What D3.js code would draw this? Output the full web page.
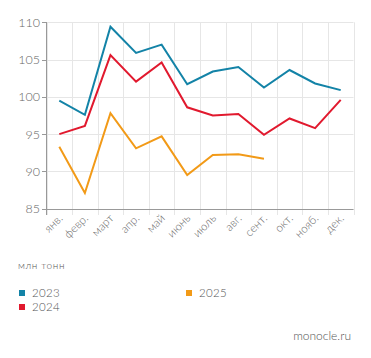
<!DOCTYPE html>
<html><head><meta charset="utf-8">
<script src="https://cdn.jsdelivr.net/npm/d3@7"></script>
<style>body{margin:0;background:#fff;} svg{display:block;font-family:Lato, "Open Sans", sans-serif;font-weight:300;}</style>
</head><body>
<svg id="c" width="371" height="358"></svg>
<script>
const months = ["янв.","февр.","март","апр.","май","июнь","июль","авг.","сент.","окт.","нояб.","дек."];
const s2023 = [99.5,97.6,109.4,105.9,107.0,101.7,103.4,104.0,101.25,103.6,101.8,100.9];
const s2024 = [95.0,96.1,105.6,102.05,104.6,98.6,97.5,97.7,94.9,97.1,95.8,99.6];
const s2025 = [93.3,87.1,97.8,93.1,94.7,89.5,92.2,92.3,91.7];
const yTicks = [85,90,95,100,105,110];
const seriesNames = ["2023","2024","2025"];
const colors = ["#1383a7","#e1192e","#f29a17"];

const svg = d3.select("#c");
const x = d3.scaleBand().domain(months).range([46.5,353.5]);
const y = d3.scaleLinear().domain([85,110]).range([208.7,22.3]);

// grid
const g = svg.append("g");
g.selectAll("line.h").data(yTicks).join("line")
  .attr("x1",46.5).attr("x2",353.5).attr("y1",d=>Math.round(y(d))+0.5).attr("y2",d=>Math.round(y(d))+0.5)
  .attr("stroke","#e6e6e6").attr("stroke-width",1);
const vx = months.map(m=>x(m)).concat([x.range()[1]]);
g.selectAll("line.v").data(vx).join("line")
  .attr("x1",d=>Math.round(d)+0.5).attr("x2",d=>Math.round(d)+0.5)
  .attr("y1",22.3).attr("y2",215)
  .attr("stroke","#e6e6e6").attr("stroke-width",1);

// axes lines
svg.append("line").attr("x1",46.5).attr("x2",46.5).attr("y1",22).attr("y2",215).attr("stroke","#999");
svg.append("line").attr("x1",46.5).attr("x2",353.5).attr("y1",209.5).attr("y2",209.5).attr("stroke","#999");
// y ticks
svg.selectAll("line.yt").data(yTicks).join("line")
  .attr("x1",42).attr("x2",46.5).attr("y1",d=>Math.round(y(d))+0.5).attr("y2",d=>Math.round(y(d))+0.5).attr("stroke","#999");
svg.selectAll("text.yl").data(yTicks).join("text")
  .attr("x",40).attr("y",d=>y(d)+4.5).attr("text-anchor","end")
  .attr("font-size",12.5).attr("fill","#666").text(d=>d);

// x labels
svg.selectAll("text.xl").data(months).join("text")
  .attr("text-anchor","end").attr("font-size",11.5).attr("fill","#666")
  .attr("transform",d=>`translate(${x(d)+x.bandwidth()/2+4},${219}) rotate(-45)`)
  .text(d=>d);

// lines
const line = d3.line().x((d,i)=>x(months[i])+x.bandwidth()/2).y(d=>y(d));
[s2023,s2024,s2025].forEach((s,i)=>{
  svg.append("path").datum(s).attr("d",line).attr("fill","none")
    .attr("stroke",colors[i]).attr("stroke-width",2).attr("stroke-linejoin","miter");
});

// unit label
svg.append("text").attr("x",18).attr("y",269).attr("font-size",10).attr("letter-spacing",0.6)
  .attr("fill","#555").text("млн тонн");

// legend
const legPos = [[19,293],[19,307],[186,293]];
seriesNames.forEach((n,i)=>{
  svg.append("rect").attr("x",legPos[i][0]).attr("y",legPos[i][1]-3).attr("width",6).attr("height",6).attr("fill",colors[i]);
  svg.append("text").attr("x",legPos[i][0]+13).attr("y",legPos[i][1]+4).attr("font-size",11.5).attr("letter-spacing",0.3).attr("fill","#555").text(n);
});

svg.append("text").attr("x",351).attr("y",340).attr("text-anchor","end").attr("font-size",12).attr("fill","#555").text("monocle.ru");
</script>
</body></html>
